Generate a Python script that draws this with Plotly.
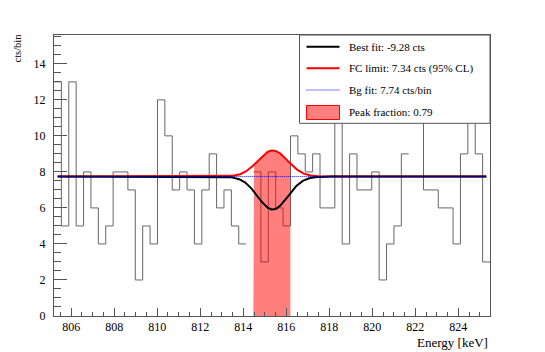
import numpy as np
import plotly.graph_objects as go

# Histogram: 59 bins starting at 805.2 keV (cts/bin); None = bin not drawn
e_lo = 805.2
bin_w = 0.3436
counts = [13, 5, 13, 5, 8, 6, 4, 5, 8, 8,
          7, 2, 5, 4, 12, 10, 7, 8, 7, 4,
          7, 9, 6, 7, 5, 4, None, 8, 3, 8,
          6, 5, 10, 9, 8, 9, 6, 6, 12, 4,
          9, 7, 7, 8, 2, 4, 5, 9, None, 13,
          7, 7, 6, 6, 4, 9, 12, 9, 3]

# Fit results (from the legend)
bg_level = 7.74          # cts/bin
best_fit_cts = -9.28
fc_limit_cts = 7.34
peak_fraction = 0.79
peak_e = 815.37          # keV
peak_sigma = 0.695       # keV
window = [814.47, 816.19]

edges = e_lo + bin_w * np.arange(len(counts) + 1)
e_hi = edges[-1]

# step outline of the histogram
hx, hy = [], []
for i, c in enumerate(counts):
    if c is None:
        hx.append(None)
        hy.append(None)
        continue
    hx += [edges[i], edges[i + 1]]
    hy += [c, c]


def model(e, cts):
    amp = cts * bin_w / (np.sqrt(2 * np.pi) * peak_sigma)
    return bg_level + amp * np.exp(-0.5 * ((e - peak_e) / peak_sigma) ** 2)


centers = edges[:-1] + bin_w / 2
xf = np.linspace(centers[0], centers[-1], 800)
xw = np.linspace(window[0], window[1], 200)

FILL = 'rgba(255,0,0,0.5)'
FRAME = '#555555'
SERIF = 'Liberation Serif, Times New Roman, Times, DejaVu Serif, serif'
DOTTED = dict(color='blue', width=1, dash='1px,1px')

fig = go.Figure()

fig.add_trace(go.Scatter(x=hx, y=hy, mode='lines', line=dict(color='#666666', width=1),
                         hoverinfo='skip'))

# peak window shading under the FC curve
fig.add_trace(go.Scatter(x=np.concatenate([[window[0]], xw, [window[1]]]),
                         y=np.concatenate([[0], model(xw, fc_limit_cts), [0]]),
                         mode='lines', fill='toself', fillcolor=FILL,
                         line=dict(width=0), hoverinfo='skip'))

fig.add_trace(go.Scatter(x=xf, y=model(xf, fc_limit_cts), mode='lines',
                         line=dict(color='red', width=2)))
fig.add_trace(go.Scatter(x=xf, y=model(xf, best_fit_cts), mode='lines',
                         line=dict(color='black', width=2)))
fig.add_trace(go.Scatter(x=[centers[0], centers[-1]], y=[bg_level, bg_level], mode='lines',
                         line=DOTTED))

axis_common = dict(showgrid=False, zeroline=False, showline=True, mirror=True,
                   linecolor=FRAME, linewidth=1, ticks='inside', tickcolor=FRAME,
                   tickfont=dict(size=12))

fig.update_xaxes(range=[e_lo, e_hi], tick0=806, dtick=2, ticklen=8,
                 minor=dict(dtick=0.5, ticks='inside', ticklen=4, tickcolor=FRAME),
                 **axis_common)
fig.update_yaxes(range=[0, 15.6], tick0=0, dtick=2, ticklen=13, ticklabelstandoff=5,
                 minor=dict(dtick=0.5, ticks='inside', ticklen=7, tickcolor=FRAME),
                 **axis_common)

# ROOT-style legend box in the top-right corner of the frame (pixel layout)
W, H = 545, 352
ML, MR, MT, MB = 54, 55, 35, 36
pw, ph = W - ML - MR, H - MT - MB


def px(x):
    return (x - ML) / pw


def py(y):
    return (H - MB - y) / ph


legend_entries = [
    (f'Best fit: {best_fit_cts:.2f} cts', dict(color='black', width=2)),
    (f'FC limit: {fc_limit_cts:.2f} cts (95% CL)', dict(color='red', width=2)),
    (f'Bg fit: {bg_level:.2f} cts/bin', DOTTED),
    (f'Peak fraction: {peak_fraction:.2f}', None),
]
row_y = [46.7, 68.3, 90.0, 112.5]

shapes = [dict(type='rect', xref='paper', yref='paper', x0=px(299.5), x1=1,
               y0=py(123.3), y1=1, fillcolor='white', line=dict(color=FRAME, width=1),
               layer='above')]
annotations = []
for (label, line), y in zip(legend_entries, row_y):
    if line is None:
        shapes.append(dict(type='rect', xref='paper', yref='paper', x0=px(306.5), x1=px(339.5),
                           y0=py(y + 7), y1=py(y - 7), fillcolor=FILL,
                           line=dict(color='red', width=1), layer='above'))
    else:
        shapes.append(dict(type='line', xref='paper', yref='paper', x0=px(306.5), x1=px(339.5),
                           y0=py(y), y1=py(y), line=line, layer='above'))
    annotations.append(dict(text=label, xref='paper', yref='paper', x=px(346.5), y=py(y),
                            xanchor='left', yanchor='middle', showarrow=False,
                            font=dict(size=11)))

annotations += [
    dict(text='cts/bin', xref='paper', yref='paper', x=px(17), y=py(48.5),
         xanchor='center', yanchor='middle', textangle=-90, showarrow=False,
         font=dict(size=10.5)),
    dict(text='Energy [keV]', xref='paper', yref='paper', x=1, y=py(342),
         xanchor='right', yanchor='middle', showarrow=False, font=dict(size=13)),
]

fig.update_layout(
    width=W, height=H,
    margin=dict(l=ML, r=MR, t=MT, b=MB),
    plot_bgcolor='white', paper_bgcolor='white',
    font=dict(family=SERIF, size=12, color='black'),
    showlegend=False,
    shapes=shapes,
    annotations=annotations,
)

fig.write_html("out.html", config={'displayModeBar': False},
               post_script="document.body.style.margin='0';")
